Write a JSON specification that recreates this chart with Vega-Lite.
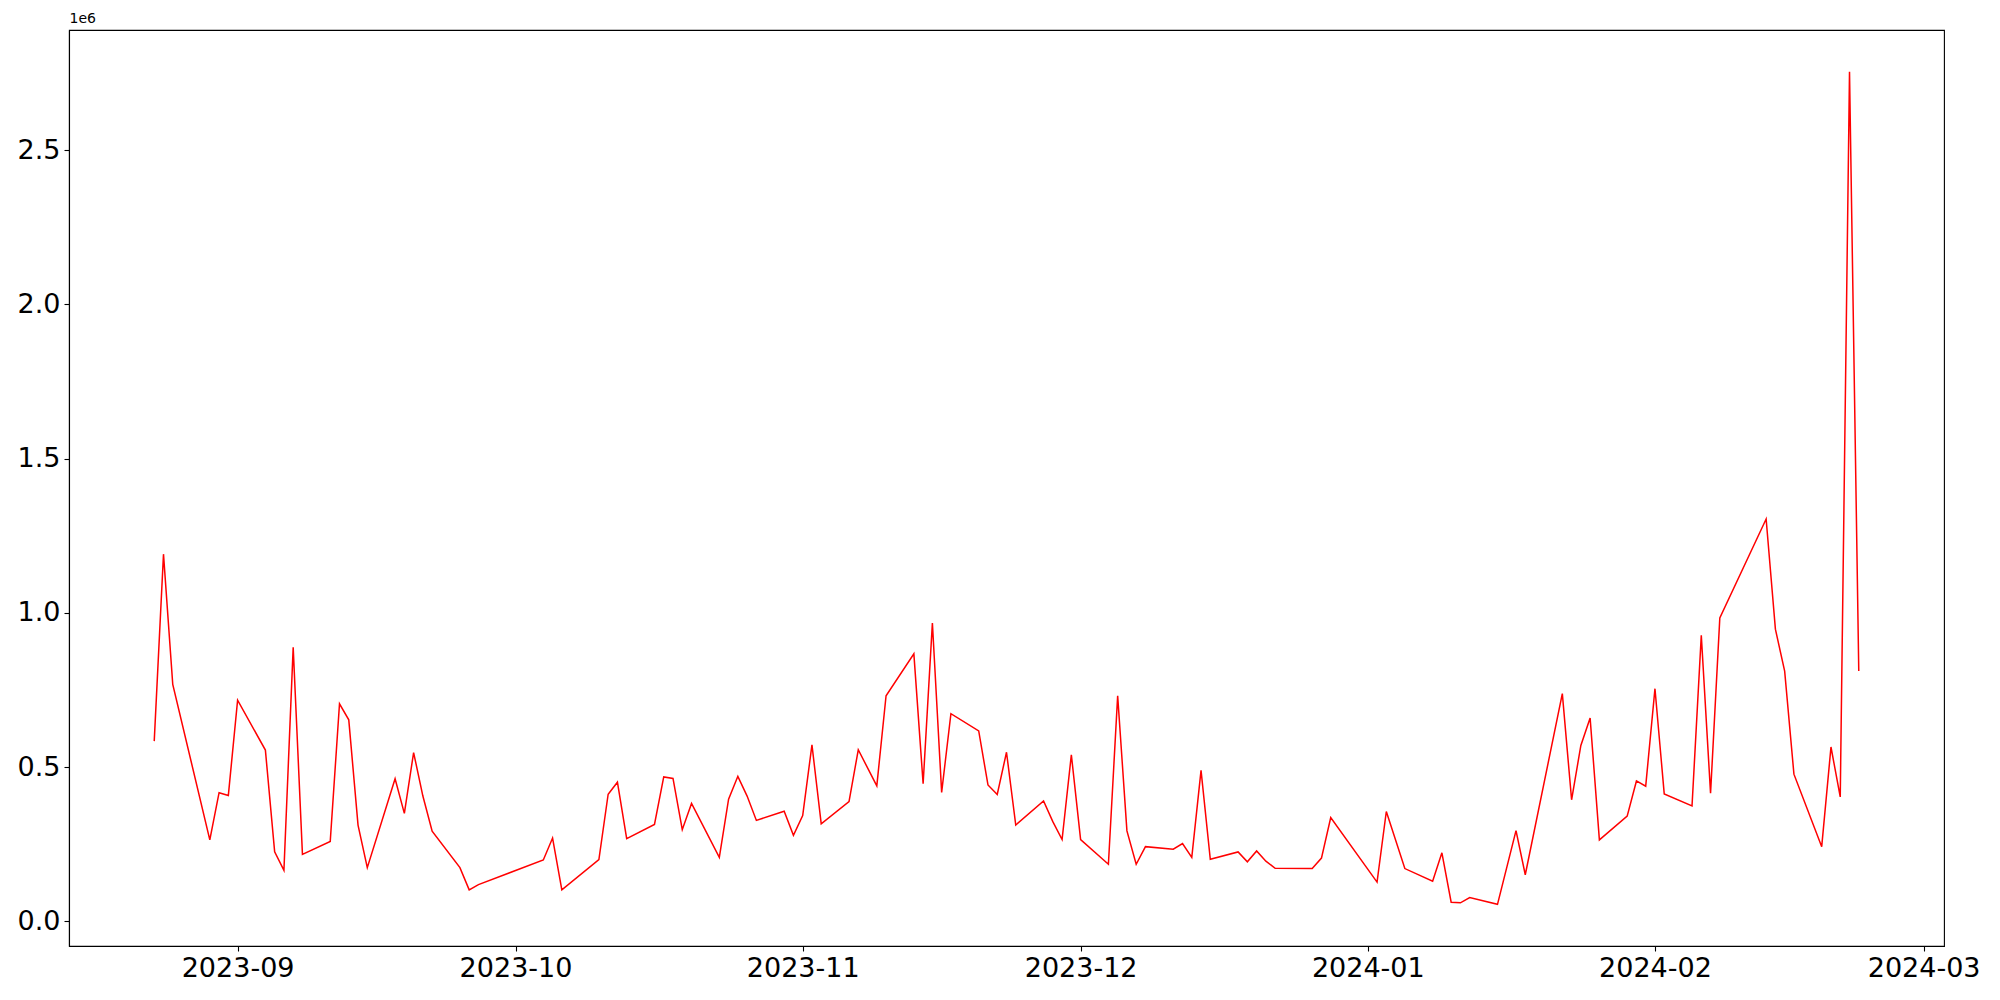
{
  "$schema": "https://vega.github.io/schema/vega-lite/v6.json",
  "width": 1875,
  "height": 916,
  "autosize": "none",
  "padding": {"left": 69, "top": 30, "right": 56, "bottom": 54},
  "background": "white",
  "config": {
    "view": {"stroke": "black", "strokeWidth": 1.1},
    "font": "DejaVu Sans",
    "axis": {
      "grid": false,
      "domainColor": "black",
      "domainWidth": 1.1,
      "tickColor": "black",
      "tickWidth": 1.1,
      "tickSize": 5,
      "labelFont": "DejaVu Sans",
      "labelFontSize": 27,
      "labelColor": "black",
      "labelPadding": 4
    }
  },
  "data": {
    "values": [
      {"date": "2023-08-23T00:00", "value": 584000},
      {"date": "2023-08-24T00:00", "value": 1190000},
      {"date": "2023-08-25T00:00", "value": 768000},
      {"date": "2023-08-29T00:00", "value": 264000},
      {"date": "2023-08-30T00:00", "value": 417000},
      {"date": "2023-08-31T00:00", "value": 408000},
      {"date": "2023-09-01T00:00", "value": 717000},
      {"date": "2023-09-04T00:00", "value": 555000},
      {"date": "2023-09-05T00:00", "value": 225000},
      {"date": "2023-09-06T00:00", "value": 165000},
      {"date": "2023-09-07T00:00", "value": 888000},
      {"date": "2023-09-08T00:00", "value": 217000},
      {"date": "2023-09-11T00:00", "value": 259000},
      {"date": "2023-09-12T00:00", "value": 705000},
      {"date": "2023-09-13T00:00", "value": 653000},
      {"date": "2023-09-14T00:00", "value": 312000},
      {"date": "2023-09-15T00:00", "value": 174000},
      {"date": "2023-09-18T00:00", "value": 462000},
      {"date": "2023-09-19T00:00", "value": 350000},
      {"date": "2023-09-20T00:00", "value": 547000},
      {"date": "2023-09-21T00:00", "value": 406000},
      {"date": "2023-09-22T00:00", "value": 292000},
      {"date": "2023-09-25T00:00", "value": 174000},
      {"date": "2023-09-26T00:00", "value": 102000},
      {"date": "2023-09-27T00:00", "value": 119000},
      {"date": "2023-10-04T00:00", "value": 199000},
      {"date": "2023-10-05T00:00", "value": 270000},
      {"date": "2023-10-06T00:00", "value": 102000},
      {"date": "2023-10-10T00:00", "value": 200000},
      {"date": "2023-10-11T00:00", "value": 412000},
      {"date": "2023-10-12T00:00", "value": 451000},
      {"date": "2023-10-13T00:00", "value": 268000},
      {"date": "2023-10-16T00:00", "value": 314000},
      {"date": "2023-10-17T00:00", "value": 468000},
      {"date": "2023-10-18T00:00", "value": 463000},
      {"date": "2023-10-19T00:00", "value": 297000},
      {"date": "2023-10-20T00:00", "value": 382000},
      {"date": "2023-10-23T00:00", "value": 207000},
      {"date": "2023-10-24T00:00", "value": 396000},
      {"date": "2023-10-25T00:00", "value": 470000},
      {"date": "2023-10-26T00:00", "value": 406000},
      {"date": "2023-10-27T00:00", "value": 327000},
      {"date": "2023-10-30T00:00", "value": 357000},
      {"date": "2023-10-31T00:00", "value": 279000},
      {"date": "2023-11-01T00:00", "value": 343000},
      {"date": "2023-11-02T00:00", "value": 572000},
      {"date": "2023-11-03T00:00", "value": 316000},
      {"date": "2023-11-06T00:00", "value": 388000},
      {"date": "2023-11-07T00:00", "value": 556000},
      {"date": "2023-11-09T00:00", "value": 439000},
      {"date": "2023-11-10T00:00", "value": 731000},
      {"date": "2023-11-13T00:00", "value": 867000},
      {"date": "2023-11-14T00:00", "value": 446000},
      {"date": "2023-11-15T00:00", "value": 967000},
      {"date": "2023-11-16T00:00", "value": 418000},
      {"date": "2023-11-17T00:00", "value": 673000},
      {"date": "2023-11-20T00:00", "value": 617000},
      {"date": "2023-11-21T00:00", "value": 442000},
      {"date": "2023-11-22T00:00", "value": 411000},
      {"date": "2023-11-23T00:00", "value": 548000},
      {"date": "2023-11-24T00:00", "value": 312000},
      {"date": "2023-11-27T00:00", "value": 390000},
      {"date": "2023-11-28T00:00", "value": 323000},
      {"date": "2023-11-29T00:00", "value": 265000},
      {"date": "2023-11-30T00:00", "value": 540000},
      {"date": "2023-12-01T00:00", "value": 265000},
      {"date": "2023-12-04T00:00", "value": 185000},
      {"date": "2023-12-05T00:00", "value": 731000},
      {"date": "2023-12-06T00:00", "value": 293000},
      {"date": "2023-12-07T00:00", "value": 185000},
      {"date": "2023-12-08T00:00", "value": 242000},
      {"date": "2023-12-11T00:00", "value": 234000},
      {"date": "2023-12-12T00:00", "value": 252000},
      {"date": "2023-12-13T00:00", "value": 207000},
      {"date": "2023-12-14T00:00", "value": 489000},
      {"date": "2023-12-15T00:00", "value": 201000},
      {"date": "2023-12-18T00:00", "value": 225000},
      {"date": "2023-12-19T00:00", "value": 193000},
      {"date": "2023-12-20T00:00", "value": 228000},
      {"date": "2023-12-21T00:00", "value": 195000},
      {"date": "2023-12-22T00:00", "value": 172000},
      {"date": "2023-12-26T00:00", "value": 171000},
      {"date": "2023-12-27T00:00", "value": 205000},
      {"date": "2023-12-28T00:00", "value": 336000},
      {"date": "2024-01-02T00:00", "value": 127000},
      {"date": "2024-01-03T00:00", "value": 356000},
      {"date": "2024-01-05T00:00", "value": 171000},
      {"date": "2024-01-08T00:00", "value": 130000},
      {"date": "2024-01-09T00:00", "value": 222000},
      {"date": "2024-01-10T00:00", "value": 62000},
      {"date": "2024-01-11T00:00", "value": 60000},
      {"date": "2024-01-12T00:00", "value": 77000},
      {"date": "2024-01-15T00:00", "value": 55000},
      {"date": "2024-01-17T00:00", "value": 294000},
      {"date": "2024-01-18T00:00", "value": 151000},
      {"date": "2024-01-22T00:00", "value": 738000},
      {"date": "2024-01-23T00:00", "value": 394000},
      {"date": "2024-01-24T00:00", "value": 570000},
      {"date": "2024-01-25T00:00", "value": 659000},
      {"date": "2024-01-26T00:00", "value": 264000},
      {"date": "2024-01-29T00:00", "value": 341000},
      {"date": "2024-01-30T00:00", "value": 455000},
      {"date": "2024-01-31T00:00", "value": 438000},
      {"date": "2024-02-01T00:00", "value": 754000},
      {"date": "2024-02-02T00:00", "value": 413000},
      {"date": "2024-02-05T00:00", "value": 374000},
      {"date": "2024-02-06T00:00", "value": 927000},
      {"date": "2024-02-07T00:00", "value": 415000},
      {"date": "2024-02-08T00:00", "value": 983000},
      {"date": "2024-02-13T00:00", "value": 1304000},
      {"date": "2024-02-14T00:00", "value": 947000},
      {"date": "2024-02-15T00:00", "value": 811000},
      {"date": "2024-02-16T00:00", "value": 477000},
      {"date": "2024-02-19T00:00", "value": 242000},
      {"date": "2024-02-20T00:00", "value": 565000},
      {"date": "2024-02-21T00:00", "value": 403000},
      {"date": "2024-02-22T00:00", "value": 2754000},
      {"date": "2024-02-23T00:00", "value": 811000}
    ]
  },
  "mark": {"type": "line", "color": "red", "strokeWidth": 1.5, "clip": true},
  "encoding": {
    "x": {
      "field": "date",
      "type": "temporal",
      "scale": {
        "domain": [
          {"year": 2023, "month": 8, "date": 13, "hours": 19, "minutes": 12},
          {"year": 2024, "month": 3, "date": 3, "hours": 4, "minutes": 48}
        ],
        "nice": false
      },
      "axis": {
        "title": null,
        "format": "%Y-%m",
        "tickCount": {"interval": "month", "step": 1},
        "labelFlush": false,
        "labelOverlap": false
      }
    },
    "y": {
      "field": "value",
      "type": "quantitative",
      "scale": {"domain": [-80000, 2889000], "nice": false, "zero": false},
      "axis": {
        "values": [0, 500000, 1000000, 1500000, 2000000, 2500000],
        "labelExpr": "format(datum.value / 1000000, '.1f')",
        "title": "1e6",
        "titleAngle": 0,
        "titleAlign": "left",
        "titleBaseline": "bottom",
        "titleX": 0,
        "titleY": -5,
        "titleFontSize": 14,
        "titleFontWeight": "normal",
        "titleFont": "DejaVu Sans",
        "titleColor": "black"
      }
    }
  }
}
